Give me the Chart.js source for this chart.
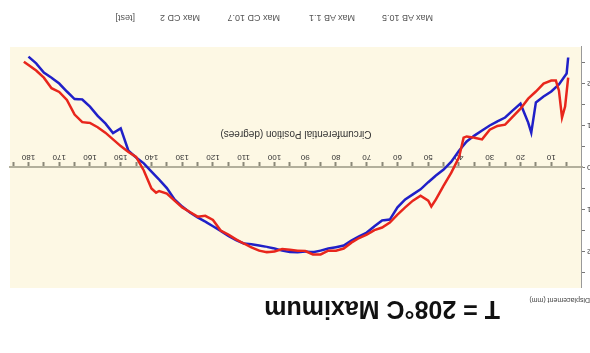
<!DOCTYPE html>
<html>
<head>
<meta charset="utf-8">
<script src="https://cdn.jsdelivr.net/npm/chart.js@4.4.1/dist/chart.umd.min.js"></script>
<style>
  body { margin: 0; background: #fff; overflow: hidden; }
  #page {
    position: relative; width: 590px; height: 353px; overflow: hidden;
    transform: rotate(180deg);
    font-family: "Liberation Sans", Arial, sans-serif;
  }
  #title { position: absolute; left: 90px; top: 29px; font-size: 25px; font-weight: bold; color: #111; white-space: nowrap; }
  #ycap { position: absolute; left: 0; top: 49px; font-size: 7px; color: #444; white-space: nowrap; }
  #legend span { position: absolute; top: 330px; font-size: 9px; color: #555; white-space: nowrap; }
  canvas { position: absolute; left: 0; top: 0; }
</style>
</head>
<body>
<div id="page">
  <canvas id="myChart" width="590" height="353"></canvas>
  <div id="title">T = 208°C Maximum</div>
  <div id="ycap">Displacement (mm)</div>
  <div id="legend"></div>
</div>
<script>
// circumferential position (deg) and displacement (mm) for both runs
const blueAngle = [
  180, 177.5, 175, 172.5, 170, 167.5, 165, 162.5, 160, 157.5,
  155, 152.5, 150, 147.5, 145, 142.5, 140, 137.5, 135, 132.5,
  130, 127.5, 125, 122.5, 120, 117.5, 115, 112.5, 110, 107.5,
  105, 102.5, 100, 97.5, 95, 92.5, 90, 87.5, 85, 82.5,
  80, 77.5, 75, 72.5, 70, 67.5, 65, 62.5, 60, 57.5,
  55, 52.5, 50, 47.5, 45, 42.5, 40, 37.5, 35, 32.5,
  30, 27.5, 25, 22.5, 20, 17.5, 16.5, 15, 12.5, 10,
  7.5, 5, 4.5
];
const blueDisp = [
  -2.64, -2.48, -2.26, -2.14, -2.0, -1.81, -1.63, -1.62, -1.45, -1.23,
  -1.05, -0.82, -0.93, -0.40, -0.24, -0.10, 0.10, 0.29, 0.49, 0.76,
  0.93, 1.07, 1.19, 1.29, 1.40, 1.51, 1.63, 1.73, 1.81, 1.83,
  1.86, 1.89, 1.93, 1.98, 2.01, 2.02, 2.0, 2.02, 1.98, 1.93,
  1.90, 1.86, 1.74, 1.64, 1.55, 1.40, 1.26, 1.24, 0.95, 0.76,
  0.64, 0.52, 0.35, 0.19, 0.05, -0.14, -0.40, -0.62, -0.76, -0.88,
  -1.0, -1.10, -1.19, -1.36, -1.52, -1.07, -0.83, -1.55, -1.69, -1.81,
  -1.98, -2.24, -2.62
];
const redAngle = [
  181.5, 180, 177.5, 175, 172.5, 170, 167.5, 165, 162.5, 160,
  157.5, 155, 152.5, 150, 147.5, 145, 142.5, 140, 138.5, 137.5,
  135, 132.5, 130, 127.5, 125, 122.5, 120, 117.5, 115, 112.5,
  110, 107.5, 105, 102.5, 100, 97.5, 95, 92.5, 90, 87.5,
  85, 82.5, 80, 77.5, 75, 72.5, 70, 67.5, 65, 62.5,
  60, 57.5, 55, 52.5, 50, 49, 47.5, 45, 42.5, 40,
  38.5, 37.5, 35, 32.5, 30, 27.5, 25, 22.5, 20, 17.5,
  15, 12.5, 10, 8.5, 7.5, 6.5, 5.5, 4.5
];
const redDisp = [
  -2.52, -2.44, -2.31, -2.14, -1.89, -1.80, -1.61, -1.26, -1.08, -1.06,
  -0.96, -0.83, -0.67, -0.51, -0.37, -0.25, 0.07, 0.50, 0.60, 0.56,
  0.62, 0.79, 0.95, 1.06, 1.17, 1.15, 1.25, 1.50, 1.60, 1.71,
  1.81, 1.90, 1.98, 2.02, 2.0, 1.94, 1.96, 1.98, 1.99, 2.07,
  2.07, 1.98, 1.98, 1.93, 1.79, 1.68, 1.60, 1.49, 1.43, 1.31,
  1.12, 0.95, 0.79, 0.67, 0.79, 0.93, 0.76, 0.43, 0.12, -0.24,
  -0.71, -0.74, -0.71, -0.67, -0.90, -0.99, -1.02, -1.21, -1.40, -1.64,
  -1.81, -2.0, -2.07, -2.07, -1.83, -1.19, -1.45, -2.14
];
const legendNames = ['Max AB 10.5', 'Max AB 1.1', 'Max CD 10.7', 'Max CD 2', '[test]'];
const legendLeft = [157, 235, 310, 390, 455];

legend = document.getElementById('legend');
legendNames.forEach((name, i) => {
  const s = document.createElement('span');
  s.textContent = name;
  s.style.left = legendLeft[i] + 'px';
  legend.appendChild(s);
});

const toPoints = (xs, ys) => xs.map((x, i) => ({ x: x, y: ys[i] }));

// cream plot background
const plotBg = {
  id: 'plotBg',
  beforeDraw(chart) {
    const a = chart.chartArea;
    chart.ctx.save();
    chart.ctx.fillStyle = '#fdf8e4';
    chart.ctx.fillRect(a.left, a.top, a.right - a.left, a.bottom - a.top);
    chart.ctx.restore();
  }
};

const ctx = document.getElementById('myChart').getContext('2d');
let myChart = new Chart(ctx, {
  type: 'line',
  data: {
    datasets: [
      {
        label: 'red',
        data: toPoints(redAngle, redDisp),
        borderColor: '#e8261c',
        borderWidth: 2.5,
        pointRadius: 0,
        tension: 0
      },
      {
        label: 'blue',
        data: toPoints(blueAngle, blueDisp),
        borderColor: '#2020c8',
        borderWidth: 2.5,
        pointRadius: 0,
        tension: 0
      }
    ]
  },
  options: {
    responsive: false,
    animation: false,
    layout: { padding: { top: 65, bottom: 47, right: 10, left: 0 } },
    plugins: { legend: { display: false }, tooltip: { enabled: false } },
    scales: {
      x: {
        type: 'linear',
        position: { y: 0 },
        min: 0,
        max: 186,
        afterBuildTicks: s => {
          const t = [];
          for (let v = 5; v <= 185; v += 5) t.push({ value: v });
          s.ticks = t;
        },
        ticks: {
          autoSkip: false,
          maxRotation: 0,
          padding: 1,
          color: '#333',
          font: { family: 'Liberation Sans', size: 8 },
          callback: v => (v % 10 === 0 && v <= 180 ? String(v) : '')
        },
        grid: { drawOnChartArea: false, tickLength: 4, tickWidth: 2, tickColor: '#8a8878' },
        border: { color: '#b3b09c', width: 2 },
        title: {
          display: true,
          text: 'Circumferential Position (degrees)',
          color: '#333',
          font: { family: 'Liberation Sans', size: 10 },
          padding: { top: 12, bottom: 0 }
        }
      },
      y: {
        min: -2.87,
        max: 2.87,
        afterBuildTicks: s => {
          const t = [];
          for (let v = -2.5; v <= 2.51; v += 0.5) t.push({ value: Math.round(v * 10) / 10 });
          s.ticks = t;
        },
        afterFit: s => { s.width = 8; },
        ticks: {
          padding: 2,
          color: '#333',
          font: { family: 'Liberation Sans', size: 8 },
          callback: v => (Number.isInteger(v) ? String(v) : '')
        },
        grid: { drawOnChartArea: false, tickLength: 3, tickColor: '#777' },
        border: { color: '#999', width: 1 }
      }
    }
  },
  plugins: [plotBg]
});
</script>
</body>
</html>
